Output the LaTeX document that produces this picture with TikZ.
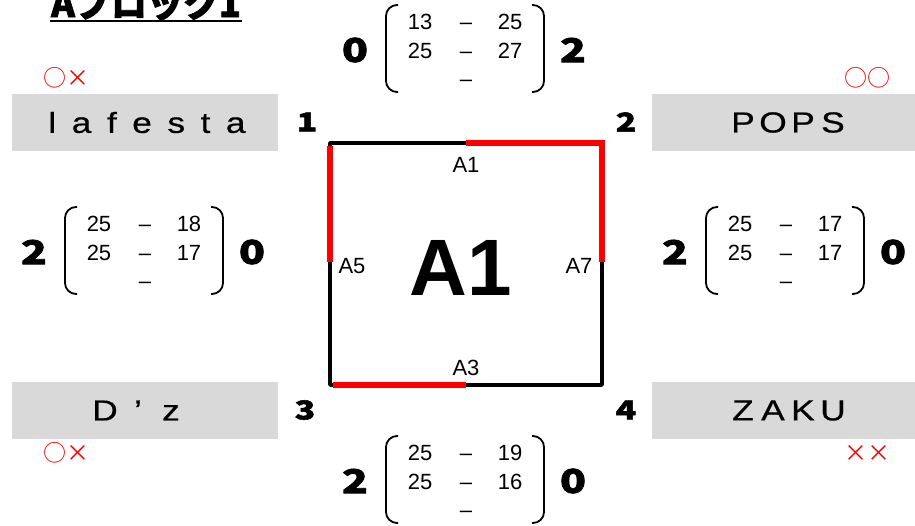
\documentclass[tikz,border=0pt]{standalone}
\usepackage{fontspec}
\setmainfont{Liberation Sans}
\newfontfamily\jp{Noto Sans CJK JP}
\newfontfamily\jptitle{Noto Sans CJK JP}[FakeBold=2]
\newfontfamily\heavy{Noto Sans CJK JP}[FakeStretch=1.3, FakeBold=2]
\newfontfamily\nm{Liberation Sans}[FakeStretch=1.22, FakeBold=0.6]
\definecolor{boxgray}{HTML}{D9D9D9}
\definecolor{mred}{HTML}{FF0000}
\newcommand\cbx[2][30pt]{\makebox[#1]{#2}}
\newcommand\widesp{\spaceskip 15.5pt\relax}
% #1 name prefix, #2 cx, #3 top y, #4 left digit, #5 right digit, #6..#9 scores
\newcommand\scoreblk[9]{%
  \draw[brk] ({#2-68},{#3}) -- ({#2-80},{#3}) -- ({#2-80},{#3+87}) -- ({#2-68},{#3+87});
  \draw[brk] ({#2+66},{#3}) -- ({#2+78},{#3}) -- ({#2+78},{#3+87}) -- ({#2+66},{#3+87});
  \node[bigdig] (#1L) at ({#2-111},{#3+45}) {#4};
  \node[bigdig] (#1R) at ({#2+107},{#3+45}) {#5};
  \node[num] (#1a1) at ({#2-46},{#3+16}) {#6};
  \node[num] (#1d1) at ({#2},{#3+16}) {–};
  \node[num] (#1b1) at ({#2+44},{#3+16}) {#7};
  \node[num] (#1a2) at ({#2-46},{#3+45}) {#8};
  \node[num] (#1d2) at ({#2},{#3+45}) {–};
  \node[num] (#1b2) at ({#2+44},{#3+45}) {#9};
  \node[num] (#1d3) at ({#2},{#3+73}) {–};
}
\begin{document}
\begin{tikzpicture}[x=1pt,y=-1pt,
  brk/.style={line width=1.8pt, rounded corners=11pt},
  bigdig/.style={font=\heavy\bfseries\fontsize{33}{33}\selectfont, inner sep=0pt},
  num/.style={font=\fontsize{22}{22}\selectfont, inner sep=0pt, text height=16pt, text depth=0pt},
  cnum/.style={font=\heavy\bfseries\fontsize{26}{26}\selectfont, inner sep=0pt},
  namebox/.style={fill=boxgray, draw=none, minimum width=266pt, minimum height=57pt, inner sep=0pt},
  nametext/.style={font=\nm\fontsize{29}{29}\selectfont, inner sep=0pt},
  resmark/.style={font=\jp\fontsize{23}{23}\selectfont, text=mred, inner sep=0pt},
  edgelbl/.style={font=\fontsize{22}{22}\selectfont, inner sep=0pt},
  sqline/.style={line width=3.5pt, line join=round},
  redline/.style={mred, line width=6pt}]
\useasboundingbox (0,0) rectangle (915,525);

% title
\node[font=\jptitle\bfseries\fontsize{36}{36}\selectfont, anchor=base, inner sep=0pt] (title) at (146,17) {Aブロック1};
\draw[line width=1.5pt] (50,21) -- (242,21);

% name boxes
\node[namebox] (lfbox) at (145,122.5) {};
\node[nametext, font=\nm\fontsize{29}{29}\selectfont\widesp] (lf) at (147,122.5) {l a f e s t a};
\node[namebox, minimum width=263pt] (popsbox) at (783.5,122.5) {};
\node[nametext] (pops) at (788,122.5) {\cbx{P}\cbx{O}\cbx{P}\cbx{S}};
\node[namebox] (dzbox) at (145,410.5) {};
\node[nametext] (dz) at (138,410.5) {\cbx[33pt]{D}\cbx[33pt]{’}\cbx[33pt]{z}};
\node[namebox, minimum width=263pt] (zakubox) at (783.5,410.5) {};
\node[nametext] (zaku) at (788,410.5) {\cbx{Z}\cbx{A}\cbx{K}\cbx{U}};

% marks
\node[resmark] (m1) at (66,78) {○×};
\node[resmark] (m2) at (867,78) {○○};
\node[resmark] (m3) at (66,453) {○×};
\node[resmark] (m4) at (867,453) {××};

% square
\coordinate (c1) at (330,143);
\coordinate (c2) at (602,143);
\coordinate (c3) at (602,385);
\coordinate (c4) at (330,385);
\draw[sqline] (c1) -- (c2) -- (c3) -- (c4) -- cycle;
\coordinate (tm) at (466,143);
\coordinate (rm) at (602,262);
\coordinate (lt) at (330,146);
\coordinate (lm) at (330,262);
\coordinate (bl) at (333,385);
\coordinate (bm) at (466,385);
\draw[redline] (tm) -- (c2) -- (rm);
\draw[redline] (lt) -- (lm);
\draw[redline] (bl) -- (bm);

\node[edgelbl] (eA1) at (466,165) {A1};
\node[edgelbl] (eA5) at (352,266) {A5};
\node[edgelbl] (eA7) at (579,266) {A7};
\node[edgelbl] (eA3) at (466,368) {A3};
\node[font=\bfseries\fontsize{80}{80}\selectfont, inner sep=0pt] (big) at (461,268) {A1};

% corner numbers
\node[cnum] (n1) at (307,122) {1};
\node[cnum] (n2) at (626,122) {2};
\node[cnum] (n3) at (305,410) {3};
\node[cnum] (n4) at (626,410) {4};

% score blocks
\scoreblk{top}{466}{5}{0}{2}{13}{25}{25}{27}
\scoreblk{lft}{145}{207}{2}{0}{25}{18}{25}{17}
\scoreblk{rgt}{786}{207}{2}{0}{25}{17}{25}{17}
\scoreblk{bot}{466}{436}{2}{0}{25}{19}{25}{16}
\end{tikzpicture}
\end{document}
